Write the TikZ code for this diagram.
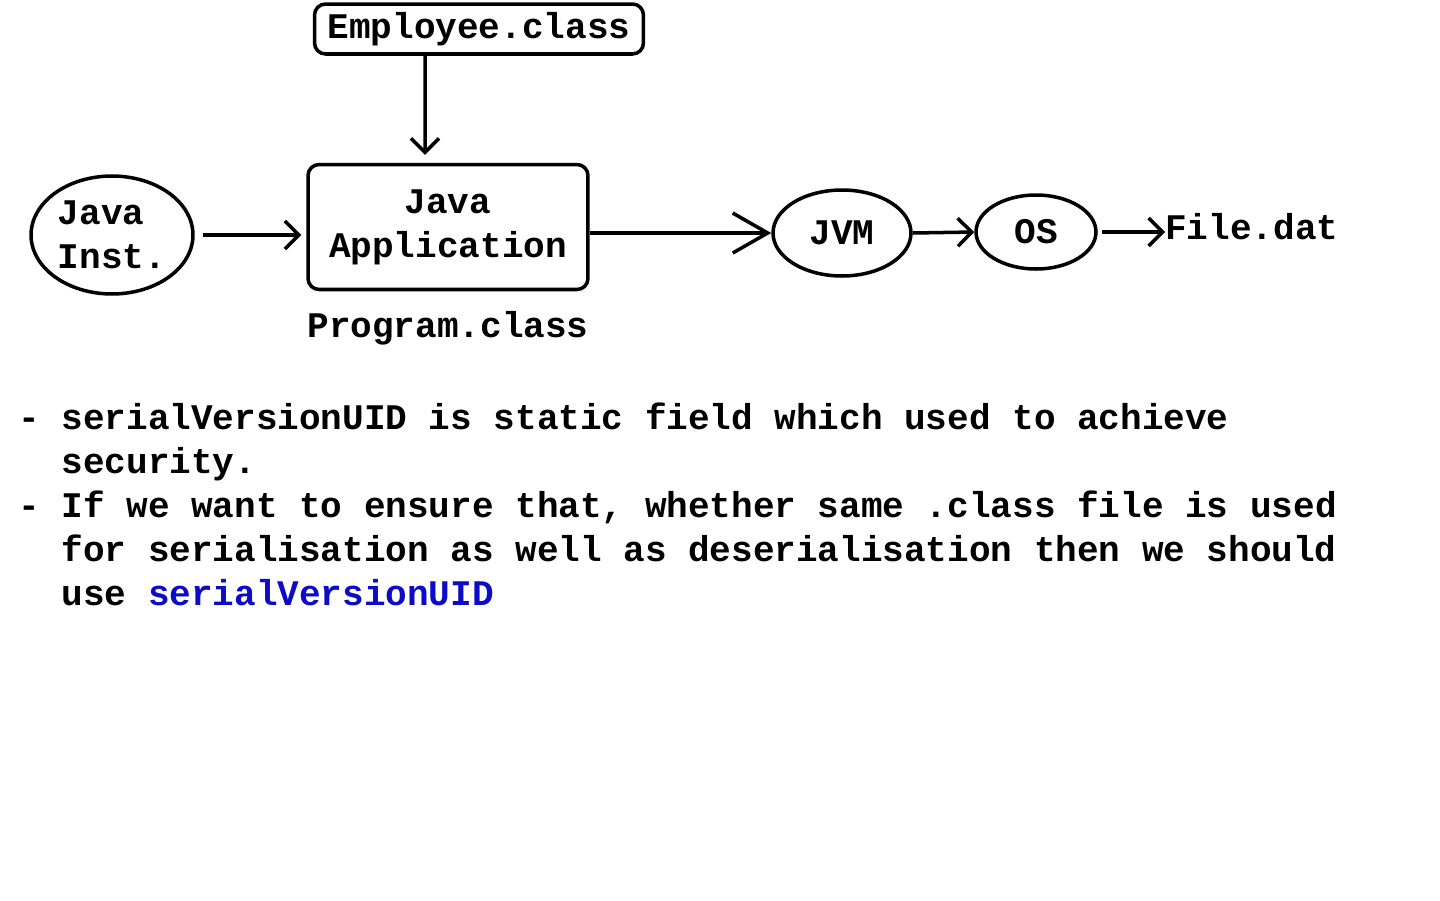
\documentclass[tikz,border=0pt]{standalone}
\usepackage{fontspec}
\setmonofont{Liberation Mono}
\usepackage{xcolor}
\usetikzlibrary{arrows.meta,positioning,shapes.geometric}
\definecolor{uidblue}{RGB}{12,12,200}

\begin{document}
\begin{tikzpicture}[
  x=0.02cm, y=-0.02cm,
  font=\ttfamily\bfseries\fontsize{20.5}{25}\selectfont,
  box/.style={draw, line width=2pt, rounded corners=0.22cm, inner sep=0pt},
  oval/.style={ellipse, draw, line width=2pt, inner sep=0pt},
  plain/.style={inner sep=0pt},
  link/.style={line width=2pt, -{Straight Barb[length=2.8mm,width=5.6mm]}},
  biglink/.style={line width=2pt, -{Straight Barb[length=7mm,width=8mm]}}
]
\useasboundingbox (0,0) rectangle (1440,900);

% ---- boxes and ovals ----
\node[box, minimum width=6.58cm, minimum height=1cm] (emp) at (479,29) {Employee.class};
\node[box, minimum width=5.6cm, minimum height=2.5cm, align=center] (app) at (448,227) {Java\\Application};
\node[plain, below=0.4cm of app] (prog) {Program.class};
\node[oval, minimum width=3.24cm, minimum height=2.36cm, align=left] (inst) at (112,235) {Java\\Inst.};
\node[oval, minimum width=2.76cm, minimum height=1.72cm] (jvm) at (842,233) {JVM};
\node[oval, minimum width=2.4cm, minimum height=1.48cm] (os) at (1036,232) {OS};
\node[plain, anchor=west] (file) at (1165,227) {File.dat};

% ---- arrows ----
\draw[link] ([xshift=-1.08cm]emp.south) -- ([xshift=-0.46cm, yshift=0.16cm]app.north);
\draw[link, shorten <=0.16cm, shorten >=0.1cm] (inst.east) -- (inst.east -| app.west);
\draw[biglink] (jvm.west -| app.east) -- (jvm.west);
\draw[link] (jvm.east) -- (os.west);
\draw[link, shorten <=0.08cm] (os.east) -- (os.east -| file.west);

% ---- notes ----
\node[plain, anchor=north west, align=left] (notes) at (18,403)
  {- serialVersionUID is static field which used to achieve\\
   \hphantom{- }security.\\
   - If we want to ensure that, whether same .class file is used\\
   \hphantom{- }for serialisation as well as deserialisation then we should\\
   \hphantom{- }use \textcolor{uidblue}{serialVersionUID}};

\end{tikzpicture}
\end{document}
